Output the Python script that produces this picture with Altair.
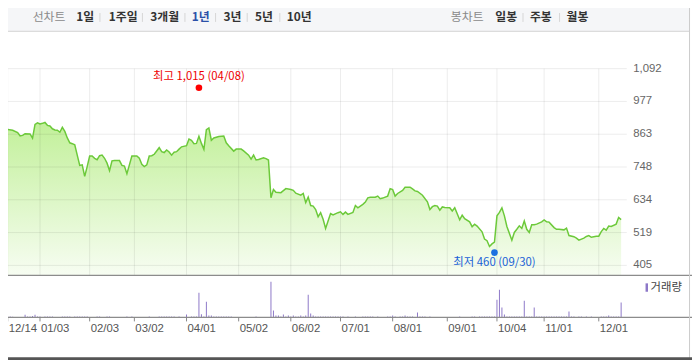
import altair as alt
import pandas as pd

# ---------------- data ----------------
close_day = [0, 2, 4, 5, 6, 7, 9, 10, 11, 12, 13, 14, 15, 16, 17, 18, 19, 20, 21, 22, 23, 24, 25, 26, 27, 28, 29, 30,
             31, 32, 33, 34, 35, 36, 37, 38, 39, 40, 41, 42, 43, 45, 46, 47, 48, 49, 50, 52, 53, 54, 55, 56, 57, 58,
             59, 61, 62, 63, 64, 65, 66, 67, 68, 69, 70, 72, 73, 74, 75, 76, 77, 78, 79, 80, 81, 82, 83, 85, 87, 88,
             89, 91, 92, 94, 95, 97, 98, 99, 100, 101, 103, 104, 105, 106, 107, 108, 110, 111, 112, 114, 115, 116,
             118, 119, 120, 121, 122, 123, 124, 125, 126, 127, 128, 129, 130, 131, 133, 134, 135, 136, 137, 139,
             140, 141, 143, 144, 145, 146, 148, 149, 150, 151, 153, 154, 155, 156, 157, 159, 160, 162, 163, 164,
             165, 167, 169, 170, 171, 172, 173, 174, 175, 176, 178, 179, 180, 182, 183, 184, 186, 187, 188, 189,
             191, 192, 193, 194, 195, 196, 197, 198, 199, 200, 201, 203, 204, 205, 206, 207, 208, 209, 210, 211,
             212, 213, 215, 216, 217, 218, 220, 221, 222, 224, 225, 226, 228, 229, 230, 232, 233, 234, 235, 237,
             238, 239, 240, 241, 242, 243, 245, 246, 247]
close_val = [880, 877, 869, 857, 859, 865, 864, 849, 897, 903, 899, 901, 904, 894, 892, 882, 878, 877, 870, 887,
             873, 850, 833, 830, 826, 790, 754, 756, 716, 750, 787, 787, 779, 774, 788, 790, 779, 762, 736, 770,
             771, 771, 754, 752, 725, 756, 787, 787, 779, 758, 750, 756, 787, 788, 793, 816, 802, 799, 808, 801,
             790, 800, 802, 811, 819, 823, 846, 842, 830, 831, 856, 831, 810, 879, 885, 842, 850, 855, 857, 833,
             823, 804, 811, 811, 805, 790, 776, 790, 773, 775, 781, 778, 773, 641, 670, 660, 659, 666, 673, 670,
             667, 657, 650, 656, 624, 643, 614, 612, 600, 575, 589, 566, 534, 560, 586, 581, 589, 592, 583, 591,
             583, 590, 614, 606, 618, 626, 641, 643, 643, 647, 638, 640, 647, 673, 670, 647, 656, 667, 678, 678,
             672, 665, 663, 650, 627, 600, 610, 614, 612, 598, 609, 607, 606, 595, 606, 564, 580, 568, 557, 540,
             549, 542, 522, 497, 491, 471, 480, 486, 578, 590, 606, 578, 541, 493, 520, 531, 543, 534, 560, 531,
             520, 547, 547, 549, 557, 564, 557, 556, 537, 531, 531, 529, 535, 509, 505, 500, 493, 500, 506, 509,
             503, 507, 507, 523, 534, 528, 542, 541, 549, 572, 565]

volume = [40, 40, 30, 0, 0, 0, 0, 110, 40, 40,
          60, 110, 40, 40, 0, 40, 40, 40, 40, 0,
          0, 0, 40, 40, 40, 40, 0, 40, 40, 40,
          40, 40, 40, 0, 0, 0, 40, 40, 0, 0,
          40, 40, 0, 0, 0, 0, 0, 0, 40, 0,
          40, 0, 0, 0, 0, 0, 0, 40, 0, 0,
          0, 40, 40, 40, 40, 40, 40, 40, 0, 40,
          0, 0, 120, 0, 40, 40, 40, 1000, 130, 40,
          640, 80, 80, 40, 40, 40, 40, 40, 40, 40,
          40, 0, 0, 0, 0, 0, 0, 0, 0, 0,
          40, 0, 0, 0, 0, 0, 1440, 280, 80, 80,
          40, 120, 40, 80, 40, 80, 40, 40, 80, 40,
          80, 920, 160, 80, 40, 40, 40, 40, 40, 40,
          40, 40, 40, 40, 40, 40, 0, 40, 0, 0,
          40, 0, 0, 40, 40, 40, 40, 40, 0, 40,
          0, 0, 0, 40, 40, 80, 40, 0, 40, 40,
          80, 40, 40, 40, 0, 200, 40, 40, 40, 0,
          40, 0, 0, 0, 0, 0, 0, 0, 0, 0,
          0, 0, 40, 0, 0, 0, 0, 40, 40, 0,
          40, 40, 40, 40, 40, 40, 40, 720, 1120, 400,
          120, 40, 40, 40, 40, 40, 40, 40, 680, 40,
          40, 40, 400, 40, 40, 40, 40, 40, 40, 40,
          40, 40, 40, 40, 40, 40, 240, 40, 40, 0,
          40, 40, 0, 40, 0, 40, 0, 0, 0, 40,
          40, 40, 80, 40, 40, 40, 40, 600]

tick_day = [0, 13, 33, 51, 72, 93, 114, 134, 155, 177, 197, 216, 238]
tick_label = ["12/14", "01/03", "02/03", "03/02", "04/01", "05/02", "06/02",
              "07/01", "08/01", "09/01", "10/04", "11/01", "12/01"]

price_tick = [405, 519.5, 634, 748.5, 863, 977.5, 1092]
price_tick_label = ["405", "519", "634", "748", "863", "977", "1,092"]

hi_day, hi_val, hi_text = 77, 1015, "최고 1,015 (04/08)"
lo_day, lo_val, lo_text = 196, 460, "최저 460 (09/30)"

period_tabs = ["1일", "1주일", "3개월", "1년", "3년", "5년", "10년"]
candle_tabs = ["일봉", "주봉", "월봉"]
legend_text = "거래량"

# ---------------- layout / style ----------------
KF = "Noto Sans CJK KR"
NF = "Liberation Sans"
W, H = 692, 354
XS = alt.Scale(domain=[0, 247], range=[-5.3, 625.3])
YP = alt.Scale(domain=[405, 1092], range=[258.3, 59.3])
AREA_FLOOR = 369.8  # price level at the lower edge of the price panel
YV = alt.Scale(domain=[0, 1680], range=[311, 269])
ONE = alt.Data(values=[{"a": 1}])
VOL_COLOR = "#8d78c8"

def xenc():
    return alt.X("day:Q", scale=XS, axis=None)

def txt(x, y, s, size, color, weight="normal", align="left", font=KF):
    return alt.Chart(ONE).mark_text(align=align, baseline="middle", fontSize=size, color=color,
                                    fontWeight=weight, font=font).encode(
        x=alt.value(x), y=alt.value(y), text=alt.value(s))

def rule(x1, x2, y1, y2, color, w=1):
    return alt.Chart(ONE).mark_rule(color=color, strokeWidth=w).encode(
        x=alt.value(x1), x2=alt.value(x2), y=alt.value(y1), y2=alt.value(y2))

price_df = pd.DataFrame({"day": close_day, "close": close_val})
vol_df = pd.DataFrame({"day": list(range(len(volume))), "vol": volume})
tick_df = pd.DataFrame({"day": tick_day, "label": tick_label})
ptick_df = pd.DataFrame({"v": price_tick, "label": price_tick_label})
hi_df = pd.DataFrame({"day": [hi_day], "v": [hi_val], "t": [hi_text]})
lo_df = pd.DataFrame({"day": [lo_day], "v": [lo_val], "t": [lo_text]})

grad = alt.Gradient(gradient="linear",
                    stops=[alt.GradientStop(color="#c2f09a", offset=0),
                           alt.GradientStop(color="#f7fdf2", offset=1)],
                    x1=1, x2=1, y1=0, y2=1)

area = alt.Chart(price_df).mark_area(color=grad).encode(
    x=xenc(), y=alt.Y("close:Q", scale=YP, axis=None), y2=alt.datum(AREA_FLOOR))
hgrid = alt.Chart(ptick_df).mark_rule(color="#000000", opacity=0.08).encode(
    y=alt.Y("v:Q", scale=YP, axis=None), x=alt.value(-8), x2=alt.value(626))
vgrid = alt.Chart(tick_df).mark_rule(color="#000000", opacity=0.08).encode(
    x=xenc(), y=alt.value(59.3), y2=alt.value(268.5))
line = alt.Chart(price_df).mark_line(color="#6cc93a", strokeWidth=1.5).encode(
    x=xenc(), y=alt.Y("close:Q", scale=YP, axis=None))
ylab = alt.Chart(ptick_df).mark_text(align="left", baseline="middle", fontSize=11.5,
                                     color="#666666", font=NF).encode(
    y=alt.Y("v:Q", scale=YP, axis=None), x=alt.value(632.5), text="label:N")
hi_pt = alt.Chart(hi_df).mark_point(filled=True, size=45, opacity=1, color="#ff0000", yOffset=-3).encode(
    x=xenc(), y=alt.Y("v:Q", scale=YP, axis=None))
hi_tx = alt.Chart(hi_df).mark_text(align="center", baseline="middle", dy=-14, fontSize=11.5,
                                   color="#ee0000", font=KF).encode(
    x=xenc(), y=alt.Y("v:Q", scale=YP, axis=None), text="t:N")
lo_pt = alt.Chart(lo_df).mark_point(filled=True, size=45, opacity=1, color="#1c6fe0", yOffset=3).encode(
    x=xenc(), y=alt.Y("v:Q", scale=YP, axis=None))
lo_tx = alt.Chart(lo_df).mark_text(align="center", baseline="middle", dy=14, fontSize=11.5,
                                   color="#1a62d6", font=KF).encode(
    x=xenc(), y=alt.Y("v:Q", scale=YP, axis=None), text="t:N")

price = alt.layer(area, hgrid, vgrid, line, ylab, hi_pt, hi_tx, lo_pt, lo_tx)

bars = alt.Chart(vol_df).mark_bar(width=1, color=VOL_COLOR).encode(
    x=xenc(), y=alt.Y("vol:Q", scale=YV, axis=None))
volume_layer = alt.layer(bars)

xticks = alt.Chart(tick_df).mark_rule(color="#888888").encode(
    x=xenc(), y=alt.value(311), y2=alt.value(315))
xlab = alt.Chart(tick_df).mark_text(align="left", baseline="middle", dx=1, fontSize=11.5,
                                    color="#555555", font=NF).encode(
    x=xenc(), y=alt.value(323), text="label:N")

# top bar
topbar = alt.Chart(ONE).mark_rect(fill="#f5f6f8", stroke="#d2d2d2", strokeWidth=1).encode(
    x=alt.value(-8), x2=alt.value(689.5), y=alt.value(-8), y2=alt.value(21.5))
tab_x = [69, 102, 144, 186, 218, 250, 282]
sep_x = [93, 136, 179, 210, 242, 275]
ctab_x = [493, 528, 565]
csep_x = [521, 558]
top_layers = [topbar, txt(25, 7, "선차트", 12, "#8a8a8a")]
for s, x in zip(period_tabs, tab_x):
    top_layers.append(txt(x, 7, s, 12, "#2b50a8" if s == "1년" else "#333333", weight="bold"))
for x in sep_x + csep_x:
    top_layers.append(rule(x, x, 3, 12, "#d6d6d6"))
top_layers.append(txt(448, 7, "봉차트", 12, "#8a8a8a"))
for s, x in zip(candle_tabs, ctab_x):
    top_layers.append(txt(x, 7, s, 12, "#333333", weight="bold"))

legend_box = alt.Chart(ONE).mark_rect(color=VOL_COLOR).encode(
    x=alt.value(645), x2=alt.value(647.5), y=alt.value(276.5), y2=alt.value(285))

chart = alt.layer(
    *top_layers,
    price,
    volume_layer,
    rule(-8, 692, 268.5, 268.5, "#8c8c8c", 1.2),
    rule(-8, 692, 311, 311, "#8c8c8c", 1.2),
    xticks, xlab,
    legend_box,
    txt(650, 281, legend_text, 11.5, "#444444"),
    rule(689.5, 689.5, -8, 354, "#cccccc"),
    rule(-8, 692, 352.7, 352.7, "#555555", 2.7),
).resolve_scale(y="independent").properties(
    width=W, height=H, padding=0, autosize=alt.AutoSizeParams(type="none")
).configure_view(strokeWidth=0)

chart.save("out.html", embed_options={"renderer": "svg", "actions": False})
